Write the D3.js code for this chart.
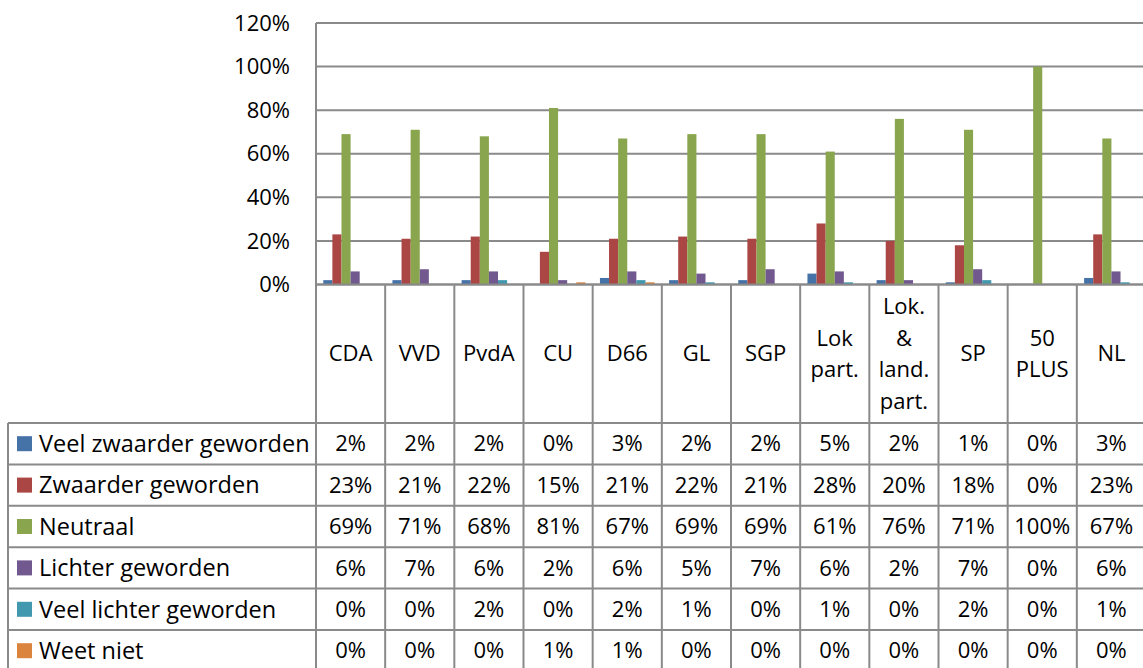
<!DOCTYPE html>
<html>
<head>
<meta charset="utf-8">
<script src="https://cdn.jsdelivr.net/npm/d3@7"></script>
<style>
  body { margin: 0; background: #fff; }
  text { font-family: "Open Sans", sans-serif; font-size: 22px; fill: #000; }
  text.rowlab { font-size: 23.5px; }
</style>
</head>
<body>
<div id="chart"></div>
<script>
// categories (parties) and series
var categories = [["CDA"], ["VVD"], ["PvdA"], ["CU"], ["D66"], ["GL"], ["SGP"],
  ["Lok", "part."], ["Lok.", "&", "land.", "part."], ["SP"], ["50", "PLUS"], ["NL"]];
var seriesNames = ["Veel zwaarder geworden", "Zwaarder geworden", "Neutraal",
  "Lichter geworden", "Veel lichter geworden", "Weet niet"];
var colors = ["#4572A7", "#AA4643", "#89A54E", "#71588F", "#4198AF", "#DB843D"];

// values in percent
var veelZwaarder = [2, 2, 2, 0, 3, 2, 2, 5, 2, 1, 0, 3];
var zwaarder = [23, 21, 22, 15, 21, 22, 21, 28, 20, 18, 0, 23];
var neutraal = [69, 71, 68, 81, 67, 69, 69, 61, 76, 71, 100, 67];
var lichter = [6, 7, 6, 2, 6, 5, 7, 6, 2, 7, 0, 6];
var veelLichter = [0, 0, 2, 0, 2, 1, 0, 1, 0, 2, 0, 1];
var weetNiet = [0, 0, 0, 1, 1, 0, 0, 0, 0, 0, 0, 0];
var yTicks = [0, 20, 40, 60, 80, 100, 120];

var seriesValues = [veelZwaarder, zwaarder, neutraal, lichter, veelLichter, weetNiet];

var W = 1143, H = 668;
var plotLeft = 316, plotRight = 1146, plotTop = 23, plotBottom = 284.5;
var headerBottom = 423, rowH = 41.4, tableLeft = 8;
var lineColor = "#8a8a8a";

var svg = d3.select("#chart").append("svg")
  .attr("width", W).attr("height", H);

var keys = categories.map(function(c) { return c.join(" "); });

var x0 = d3.scaleBand().domain(keys).range([plotLeft, plotRight]);
var x1 = d3.scaleBand().domain(seriesNames).range([0, x0.bandwidth()]).paddingOuter(0.8);
var y = d3.scaleLinear().domain([0, 120]).range([plotBottom, plotTop]);

// gridlines
svg.selectAll(".grid")
  .data(yTicks)
  .enter().append("line")
  .attr("x1", plotLeft).attr("x2", plotRight)
  .attr("y1", function(d) { return y(d); })
  .attr("y2", function(d) { return y(d); })
  .style("stroke", lineColor).style("stroke-width", 2);

// y labels
svg.selectAll(".ylab")
  .data(yTicks)
  .enter().append("text")
  .attr("x", 290)
  .attr("y", function(d) { return y(d); })
  .attr("dy", "0.35em")
  .style("text-anchor", "end")
  .text(function(d) { return d + "%"; });

// bars
var groups = svg.selectAll(".grp")
  .data(keys)
  .enter().append("g")
  .attr("transform", function(d) { return "translate(" + x0(d) + ",0)"; });

groups.selectAll("rect")
  .data(function(d, i) {
    return seriesNames.map(function(s, j) { return { s: s, v: seriesValues[j][i], c: colors[j] }; });
  })
  .enter().append("rect")
  .attr("x", function(d) { return x1(d.s); })
  .attr("width", x1.bandwidth())
  .attr("y", function(d) { return y(d.v); })
  .attr("height", function(d) { return y(0) - y(d.v); })
  .style("fill", function(d) { return d.c; });

// axis line over bars
svg.append("line")
  .attr("x1", plotLeft).attr("x2", plotRight)
  .attr("y1", plotBottom).attr("y2", plotBottom)
  .style("stroke", lineColor).style("stroke-width", 2);

// data table
var tableBottom = headerBottom + rowH * seriesNames.length;

svg.append("line")
  .attr("x1", plotLeft).attr("x2", plotLeft)
  .attr("y1", plotTop).attr("y2", tableBottom)
  .style("stroke", lineColor).style("stroke-width", 2);

svg.selectAll(".vsep")
  .data(keys)
  .enter().append("line")
  .attr("x1", function(d) { return x0(d) + x0.bandwidth(); })
  .attr("x2", function(d) { return x0(d) + x0.bandwidth(); })
  .attr("y1", plotBottom).attr("y2", tableBottom)
  .style("stroke", lineColor).style("stroke-width", 2);

svg.append("line")
  .attr("x1", tableLeft).attr("x2", tableLeft)
  .attr("y1", headerBottom).attr("y2", tableBottom)
  .style("stroke", lineColor).style("stroke-width", 2);

svg.selectAll(".hrow")
  .data(d3.range(seriesNames.length + 1))
  .enter().append("line")
  .attr("x1", tableLeft).attr("x2", plotRight)
  .attr("y1", function(i) { return headerBottom + i * rowH; })
  .attr("y2", function(i) { return headerBottom + i * rowH; })
  .style("stroke", lineColor).style("stroke-width", 2);

// category headers
var lineGap = 31.7;
var headerMid = (plotBottom + headerBottom) / 2;
var heads = svg.selectAll(".head")
  .data(categories)
  .enter().append("text")
  .style("text-anchor", "middle")
  .attr("x", function(d, i) { return x0(keys[i]) + x0.bandwidth() / 2; })
  .attr("y", function(d) { return headerMid - (d.length - 1) * lineGap / 2; });
heads.selectAll("tspan")
  .data(function(d) { return d; })
  .enter().append("tspan")
  .attr("x", function() { return this.parentNode.getAttribute("x"); })
  .attr("dy", function(d, i) { return i === 0 ? "0.35em" : lineGap; })
  .text(function(d) { return d; });

// row legend
var rows = svg.selectAll(".row")
  .data(seriesNames)
  .enter().append("g")
  .attr("transform", function(d, i) { return "translate(0," + (headerBottom + i * rowH + rowH / 2) + ")"; });

rows.append("rect")
  .attr("x", 17).attr("y", -7.5)
  .attr("width", 15).attr("height", 15)
  .style("fill", function(d, i) { return colors[i]; });

rows.append("text")
  .attr("class", "rowlab")
  .attr("x", 39).attr("dy", "0.35em")
  .text(function(d) { return d; });

rows.each(function(s, j) {
  d3.select(this).selectAll(".val")
    .data(seriesValues[j])
    .enter().append("text")
    .attr("x", function(d, i) { return x0(keys[i]) + x0.bandwidth() / 2; })
    .attr("dy", "0.35em")
    .style("text-anchor", "middle")
    .text(function(d) { return d + "%"; });
});
</script>
</body>
</html>
